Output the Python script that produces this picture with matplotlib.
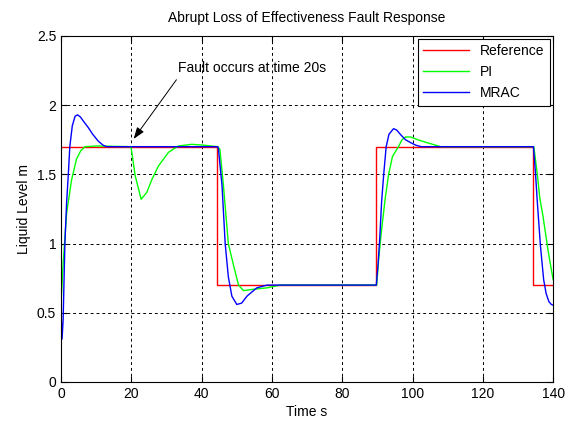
import matplotlib
matplotlib.use("Agg")
import matplotlib.pyplot as plt

plt.rcParams['font.family'] = ['Liberation Sans', 'DejaVu Sans']

# Reference (square wave)
t_ref = [0, 44.5, 44.5, 89.7, 89.7, 134.4, 134.4, 140]
y_ref = [1.7, 1.7, 0.7, 0.7, 1.7, 1.7, 0.7, 0.7]

# PI response
t_pi = [0, 0.66, 1.6, 3.0, 4.4, 5.6, 6.8, 10, 19.9,
        21.1, 22.8, 24.4, 25.8, 27.7, 30.6, 33.4, 37.2, 41.0, 44.6,
        45.2, 46.2, 47.6, 49.1, 50.5, 51.9, 54.8, 58.6, 62.4, 89.8,
        90.4, 91.2, 92.2, 93.2, 94.3, 96.0, 97.0, 98.0, 99.5, 101.5, 104, 106, 108, 134.5,
        135.0, 135.5, 136.2, 137.1, 138.5, 139.3, 140]
y_pi = [0.57, 0.88, 1.22, 1.46, 1.61, 1.67, 1.70, 1.705, 1.70,
        1.49, 1.32, 1.37, 1.46, 1.56, 1.66, 1.705, 1.717, 1.71, 1.70,
        1.68, 1.42, 1.0, 0.84, 0.70, 0.66, 0.67, 0.68, 0.70, 0.70,
        0.90, 1.10, 1.32, 1.50, 1.63, 1.70, 1.75, 1.77, 1.77, 1.75, 1.73, 1.715, 1.70, 1.70,
        1.60, 1.50, 1.33, 1.20, 0.96, 0.84, 0.74]

# MRAC response
t_mrac = [0, 0.3, 0.6, 1.1, 1.6, 2.1, 2.5, 3.2, 4.0, 4.7, 5.5, 6.5, 7.7, 9.0, 10.6, 12, 13, 44.6,
          44.8, 45.8, 46.7, 47.6, 48.6, 50.0, 51.4, 52.9, 55.7, 58.6, 89.7,
          90.2, 90.7, 91.2, 91.8, 92.5, 93.3, 94.6, 95.5, 96.5, 98, 99.4, 101, 102.5, 134.4,
          134.7, 135.0, 135.5, 136.4, 137.3, 138.0, 138.8, 139.5, 140]
y_mrac = [0.5, 0.31, 0.45, 1.0, 1.3, 1.51, 1.7, 1.85, 1.92, 1.93, 1.915, 1.88, 1.84, 1.79, 1.74, 1.71, 1.70, 1.70,
          1.68, 1.42, 1.0, 0.76, 0.62, 0.56, 0.57, 0.62, 0.68, 0.70, 0.70,
          0.85, 1.05, 1.30, 1.50, 1.70, 1.79, 1.83, 1.82, 1.79, 1.75, 1.73, 1.71, 1.70, 1.70,
          1.60, 1.50, 1.30, 0.98, 0.74, 0.64, 0.58, 0.56, 0.555]

fig = plt.figure(figsize=(5.65, 4.23), dpi=100)
ax = fig.add_axes([0.108, 0.097, 0.871, 0.818])

ax.plot(t_ref, y_ref, color='red', lw=1.0, label='Reference')
ax.plot(t_pi, y_pi, color='#00ff00', lw=1.0, label='PI')
ax.plot(t_mrac, y_mrac, color='blue', lw=1.0, label='MRAC')

ax.set_xlim(0, 140)
ax.set_ylim(0, 2.5)
ax.set_xticks(range(0, 141, 20))
ax.set_yticks([0, 0.5, 1, 1.5, 2, 2.5])
ax.set_yticklabels(['0', '0.5', '1', '1.5', '2', '2.5'])
ax.grid(True, color='black', linestyle=(0, (3, 3)), linewidth=0.7)
ax.tick_params(direction='in', top=True, right=True, length=4, labelsize=10)
for s in ax.spines.values():
    s.set_linewidth(0.8)

ax.set_title('Abrupt Loss of Effectiveness Fault Response', fontsize=10, pad=10)
ax.set_xlabel('Time s', fontsize=10, labelpad=3)
ax.set_ylabel('Liquid Level m', fontsize=10)

ax.annotate('', xy=(20.2, 1.74), xytext=(33.3, 2.20),
            arrowprops=dict(arrowstyle='-|>,head_length=0.7,head_width=0.25',
                            color='black', lw=0.7))
ax.text(33.3, 2.27, 'Fault occurs at time 20s', fontsize=10, va='center', ha='left')

leg = ax.legend(loc='upper right', fontsize=10, fancybox=False, edgecolor='black',
                framealpha=1, borderaxespad=0.2, handlelength=3.3)
leg.get_frame().set_linewidth(0.8)

fig.savefig('out.png', dpi=100)
